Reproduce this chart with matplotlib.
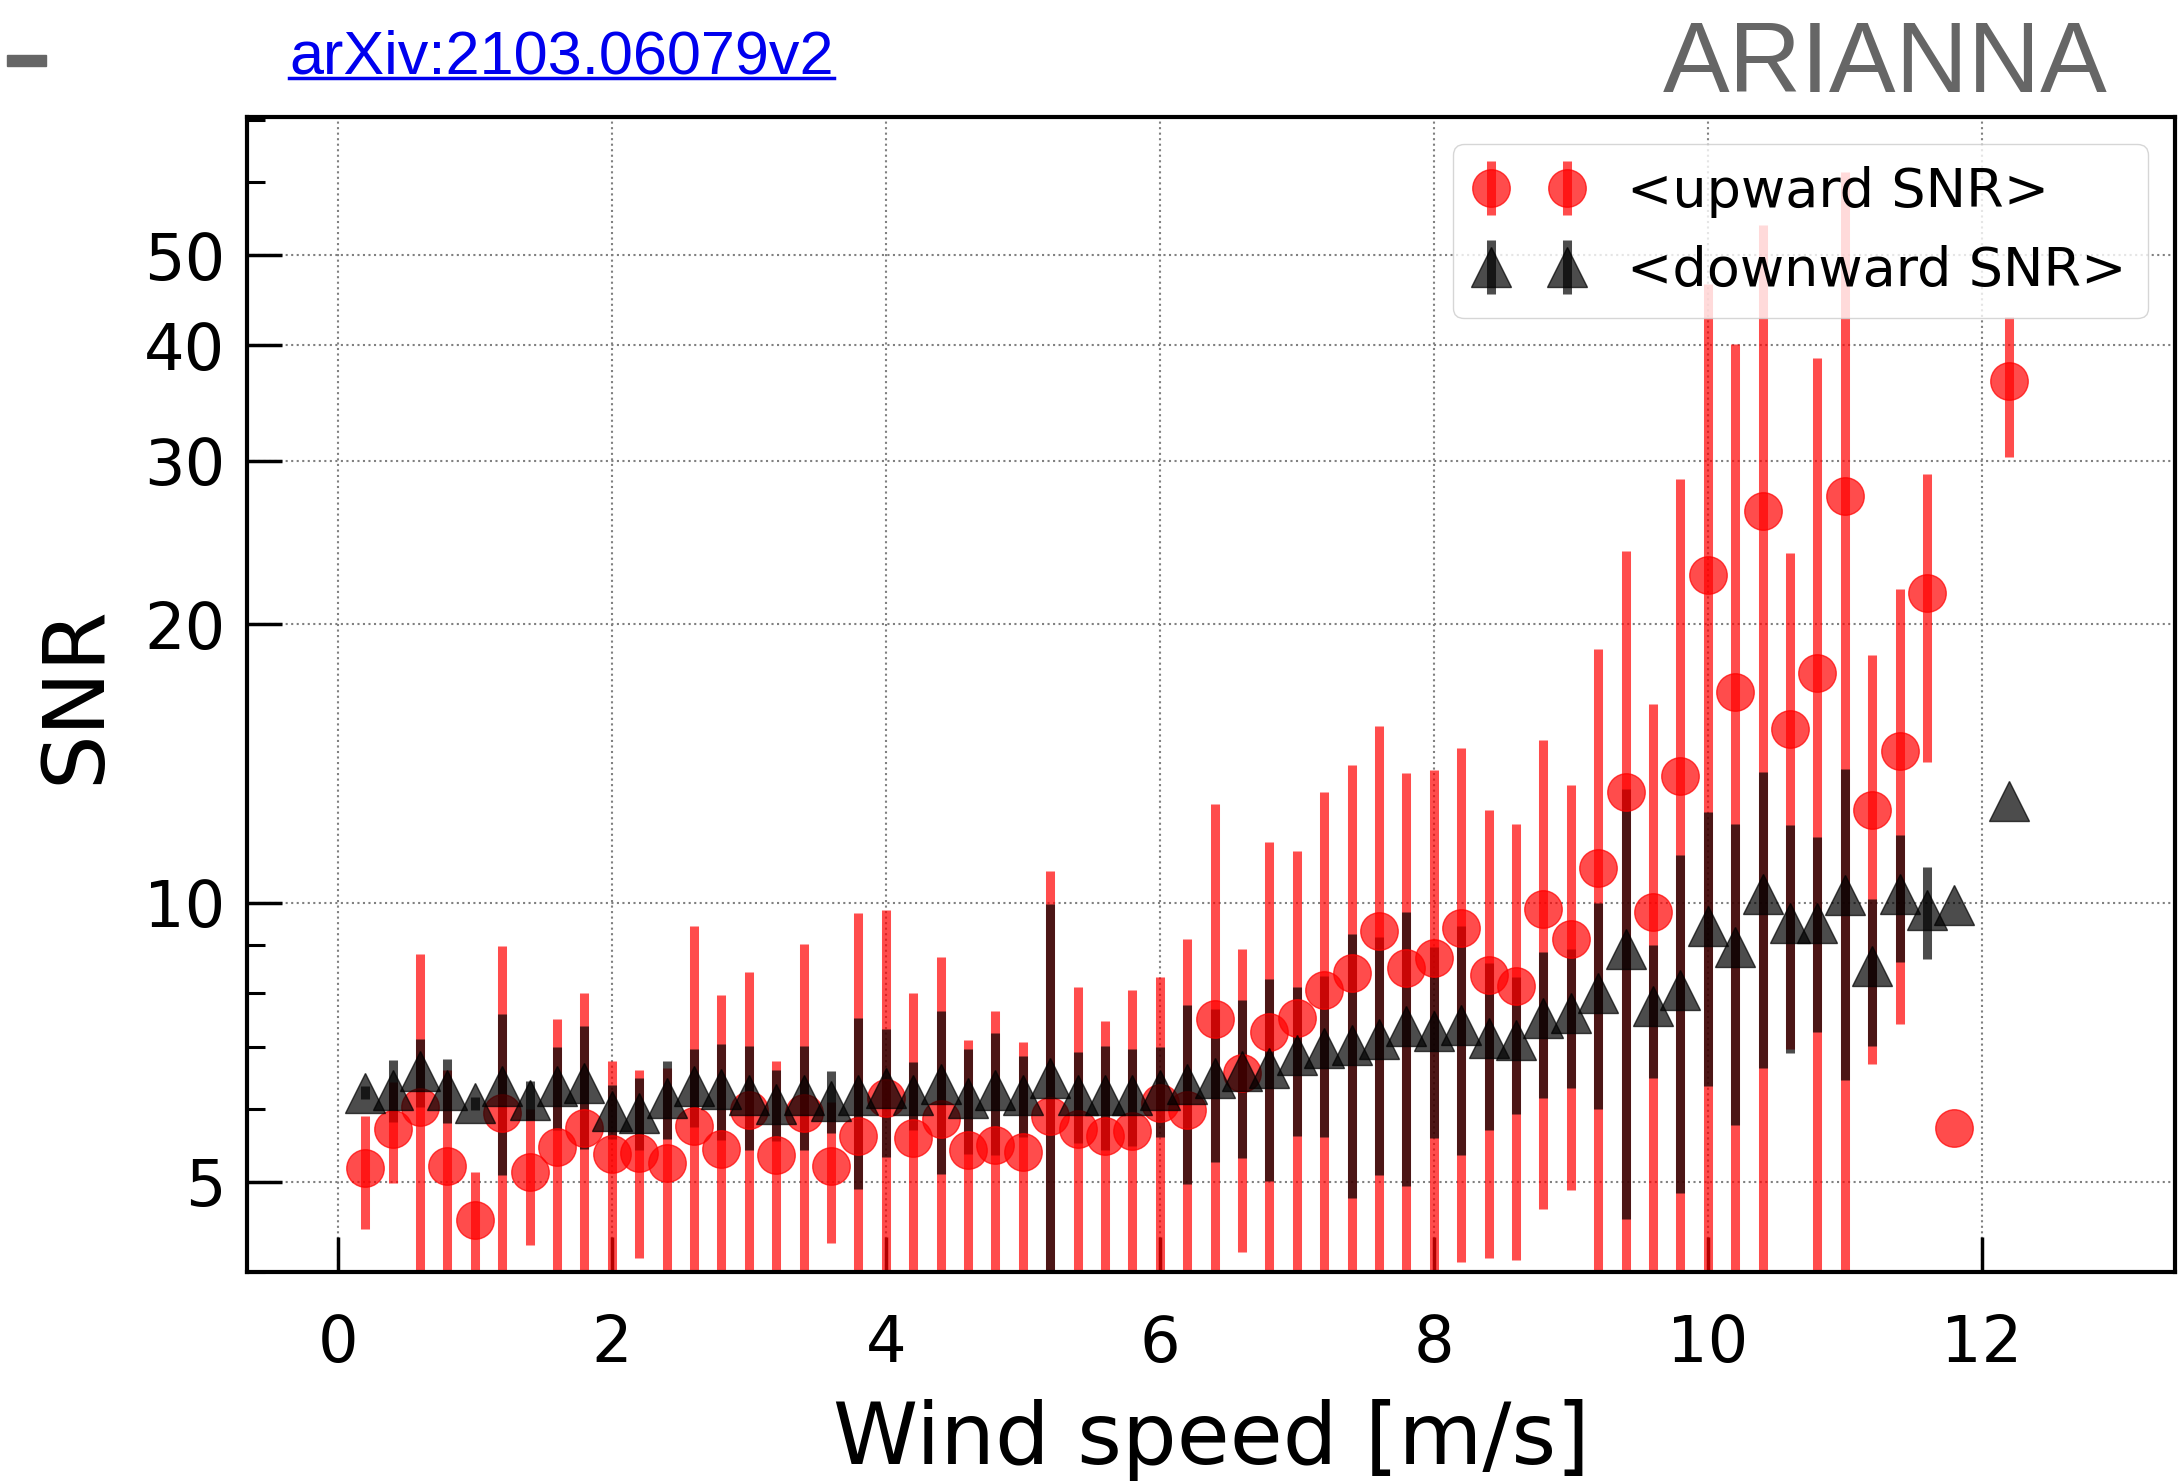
import numpy as np
import matplotlib
matplotlib.use('Agg')
from matplotlib import pyplot as plt
from matplotlib import ticker
from matplotlib.lines import Line2D
from matplotlib.patches import Rectangle

# wind speed bins [m/s]
wind = [0.2, 0.4, 0.6, 0.8, 1.0, 1.2, 1.4, 1.6, 1.8, 2.0,
        2.2, 2.4, 2.6, 2.8, 3.0, 3.2, 3.4, 3.6, 3.8, 4.0,
        4.2, 4.4, 4.6, 4.8, 5.0, 5.2, 5.4, 5.6, 5.8, 6.0,
        6.2, 6.4, 6.6, 6.8, 7.0, 7.2, 7.4, 7.6, 7.8, 8.0,
        8.2, 8.4, 8.6, 8.8, 9.0, 9.2, 9.4, 9.6, 9.8, 10.0,
        10.2, 10.4, 10.6, 10.8, 11.0, 11.2, 11.4, 11.6, 11.8, 12.2]

up_snr = [5.17, 5.70, 6.03, 5.20, 4.55, 5.94, 5.13, 5.45, 5.72, 5.36,
          5.37, 5.24, 5.74, 5.43, 5.98, 5.35, 5.94, 5.20, 5.60, 6.16,
          5.58, 5.84, 5.41, 5.48, 5.39, 5.89, 5.70, 5.60, 5.68, 6.08,
          5.98, 7.50, 6.56, 7.25, 7.52, 8.06, 8.40, 9.32, 8.51, 8.72,
          9.40, 8.37, 8.14, 9.84, 9.15, 10.9, 13.16, 9.79, 13.7, 22.6,
          16.9, 26.5, 15.4, 17.7, 27.5, 12.6, 14.6, 21.6, 5.72, 36.6]
up_err = [0.72, 0.71, 2.78, 1.4, 0.58, 3.04, 0.86, 2.05, 2.28, 1.40,
          1.23, 1.4, 3.71, 2.52, 2.44, 1.41, 3.09, 0.9, 4.15, 3.66,
          2.42, 2.9, 1.71, 2.16, 1.69, 4.93, 2.41, 1.85, 2.37, 2.23,
          3.17, 5.3, 2.36, 4.4, 3.85, 5.1, 5.7, 6.2, 5.3, 5.2,
          5.3, 4.23, 4.02, 5.16, 4.25, 7.9, 10.8, 6.6, 15.0, 24.0,
          23.2, 27.4, 8.45, 21.0, 34.0, 5.9, 7.2, 7.4, 0.0, 6.3]

down_snr = [6.24, 6.29, 6.58, 6.29, 6.08, 6.34, 6.13, 6.34, 6.39, 5.96,
            5.94, 6.16, 6.34, 6.30, 6.21, 6.07, 6.21, 6.12, 6.21, 6.32,
            6.21, 6.37, 6.16, 6.29, 6.21, 6.47, 6.21, 6.21, 6.21, 6.29,
            6.37, 6.47, 6.58, 6.64, 6.86, 6.97, 7.03, 7.14, 7.36, 7.27,
            7.39, 7.15, 7.12, 7.51, 7.61, 8.0, 8.91, 7.74, 8.06, 9.44,
            8.96, 10.23, 9.52, 9.52, 10.2, 8.56, 10.23, 9.82, 9.96, 12.9]
down_err = [0.1, 0.48, 0.55, 0.5, 0.1, 1.25, 0.3, 0.65, 0.97, 0.4,
            0.53, 0.6, 0.61, 0.75, 0.8, 0.53, 0.8, 0.47, 1.3, 1.0,
            0.52, 1.27, 0.8, 0.95, 0.62, 3.5, 0.7, 0.8, 0.74, 0.7,
            1.4, 1.22, 1.28, 1.63, 1.25, 1.38, 2.23, 2.05, 2.41, 1.7,
            2.05, 1.46, 1.2, 1.35, 1.3, 2.0, 4.35, 1.27, 3.2, 3.1,
            3.2, 3.6, 2.63, 2.26, 3.76, 1.55, 1.6, 1.12, 0.0, 0.0]

y_major = [5, 10, 20, 30, 40, 50]
y_minor = [4, 6, 7, 8, 9, 60, 70]
x_major = [0, 2, 4, 6, 8, 10, 12]

fig = plt.figure(figsize=(21.82, 14.81), dpi=100)
ax = fig.add_axes([0.1134, 0.1413, 0.8834, 0.7797])

ax.errorbar(wind, up_snr, yerr=up_err, fmt='o', color='red', mec='red',
            ms=27, elinewidth=6.5, alpha=0.7, label='<upward SNR>')
ax.errorbar(wind, down_snr, yerr=down_err, fmt='^', color='k', mec='k',
            ms=29, elinewidth=6.5, alpha=0.7, label='<downward SNR>')

ax.set_yscale('log')
ax.set_ylim(4, 70.5)
ax.set_xlim(-0.66, 13.41)

ax.yaxis.set_major_locator(ticker.FixedLocator(y_major))
ax.yaxis.set_major_formatter(ticker.FixedFormatter([str(v) for v in y_major]))
ax.yaxis.set_minor_locator(ticker.FixedLocator(y_minor))
ax.yaxis.set_minor_formatter(ticker.NullFormatter())
ax.xaxis.set_major_locator(ticker.FixedLocator(x_major))
ax.xaxis.set_minor_locator(ticker.NullLocator())

ax.tick_params(axis='both', which='major', direction='in', length=25, width=2.5,
               labelsize=46)
ax.tick_params(axis='both', which='minor', direction='in', length=13, width=2.2)
ax.tick_params(axis='x', which='major', pad=30)
ax.tick_params(axis='y', which='major', pad=16)
for s in ax.spines.values():
    s.set_linewidth(3)

ax.grid(True, which='major', linestyle=':', color='gray', linewidth=1.5)

ax.set_xlabel('Wind speed [m/s]', fontsize=62, labelpad=17)
ax.set_ylabel('SNR', fontsize=62, labelpad=19)

ax.legend(loc='upper right', fontsize=39, numpoints=2)

# header decorations
fig.patches.append(Rectangle((7 / 2182, 1 - 66 / 1481), 39 / 2182, 11 / 1481,
                             transform=fig.transFigure, color='#666666'))
link = fig.text(289 / 2182, 1 - 73 / 1481, 'arXiv:2103.06079v2', color='#0000ee',
                fontsize=44, family='Liberation Sans', va='baseline')
fig.text(1663 / 2182, 1 - 92 / 1481, 'ARIANNA', color='#666666',
         fontsize=72, family='Liberation Sans', va='baseline')

fig.canvas.draw()
bb = link.get_window_extent()
uy = (1481 - 78) / 1481
fig.lines.append(Line2D([bb.x0 / 2182, bb.x1 / 2182], [uy, uy],
                        transform=fig.transFigure, color='#0000ee', lw=2.5))

fig.savefig('out.png', dpi=100)
